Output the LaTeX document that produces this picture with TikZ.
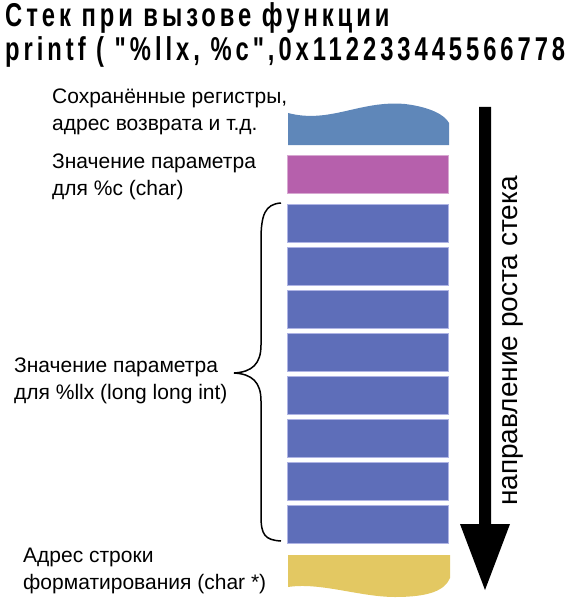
\documentclass[tikz,border=0pt]{standalone}
\usepackage{fontspec}
\setmainfont{Liberation Sans}
\newfontfamily\titlefont[FakeStretch=0.72,LetterSpace=12]{Liberation Sans}
\definecolor{topblue}{RGB}{95,135,185}
\definecolor{magbox}{RGB}{182,96,172}
\definecolor{stackblue}{RGB}{94,110,185}
\definecolor{yelbox}{RGB}{227,200,98}
\definecolor{lightrim}{RGB}{175,180,228}
\begin{document}
\begin{tikzpicture}[x=1pt,y=-1pt,
  lbl/.style={anchor=base west,inner sep=0pt,font=\fontsize{21}{27}\selectfont,align=left},
  slot/.style={fill=stackblue,draw=lightrim,line width=0.8pt},
  ttl/.style={anchor=base west,inner sep=0pt,font=\titlefont\bfseries\fontsize{33}{35}\selectfont}]
\useasboundingbox (0,0) rectangle (571,599);
% title
\node[ttl] (t1) at (5,27) {Стек при вызове функции};
\node[ttl] (t2) at (5,61) {printf ( "\%llx, \%c",0x112233445566778};
% top wavy block
\fill[topblue] (288,113) .. controls (330,124) and (360,100) .. (405,104)
  .. controls (430,107) and (445,115) .. (449,123) -- (449,145) -- (288,145) -- cycle;
\node[inner sep=0pt] (saved) at (368,130) {};
% magenta
\node[draw=magbox!55!white,fill=magbox,line width=0.8pt,minimum width=161pt,minimum height=38pt,inner sep=0pt] (cval) at (368,174.5) {};
% blue slots
\foreach \i in {0,...,7}{
  \node[slot,minimum width=161pt,minimum height=38pt,inner sep=0pt] (s\i) at (368,{223+43*\i}) {};
}
% yellow wavy block
\fill[yelbox] (288,555) -- (450,555) -- (450,578)
  .. controls (445,590) and (430,597) .. (395,597)
  .. controls (360,597) and (320,582) .. (288,587) -- cycle;
\node[inner sep=0pt] (fmt) at (368,570) {};
% labels (base = baseline of last line)
\node[lbl] (l1) at (52,130) {Сохранённые регистры,\\адрес возврата и т.д.};
\node[lbl] (l2) at (52,195) {Значение параметра\\для \%c (char)};
\node[lbl] (l3) at (14,399) {Значение параметра\\для \%llx (long long int)};
\node[lbl] (l4) at (23,589) {Адрес строки\\форматирования (char *)};
% brace
\coordinate (bt) at (281,203);
\coordinate (bb) at (281,541);
\draw[line width=1.5pt] (bt) .. controls (265,204) and (261,215) .. (261,240) -- (261,345)
  .. controls (261,364) and (252,372) .. (234,373)
  .. controls (252,374) and (261,382) .. (261,401) -- (261,516)
  .. controls (261,535) and (265,540) .. (bb);
% arrow
\coordinate (at) at (485,107);
\coordinate (ah) at (485,590);
\fill[black] (479,107) -- (491,107) -- (491,524) -- (510,524) -- (ah) -- (460,524) -- (479,524) -- cycle;
\node[rotate=90,anchor=base west,inner sep=0pt,font=\fontsize{28}{30}\selectfont] (dir) at (517,506) {направление роста стека};
\end{tikzpicture}
\end{document}
